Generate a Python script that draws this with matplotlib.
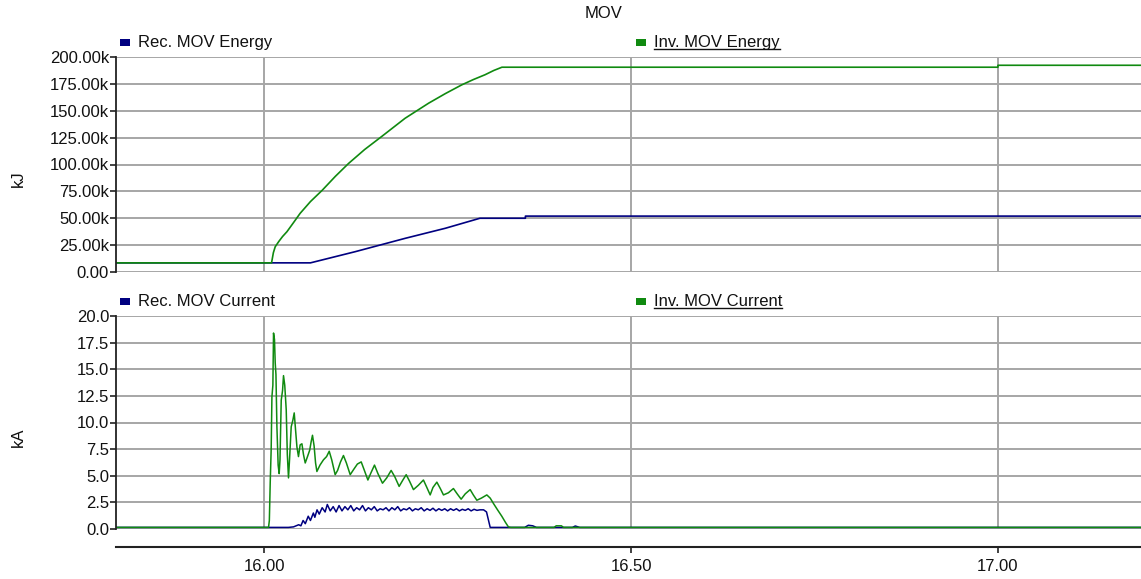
import matplotlib
matplotlib.use("Agg")
import matplotlib.pyplot as plt
from matplotlib.patches import Rectangle
from matplotlib.lines import Line2D
from matplotlib.ticker import FuncFormatter

plt.rcParams['font.family'] = ['Liberation Sans', 'DejaVu Sans']

# energy traces, values in thousands of kJ
rec_energy_t = [15.79, 16.063, 16.124, 16.192, 16.247, 16.294, 16.356, 16.356, 17.20]
rec_energy_k = [8.5, 8.5, 18.9, 31.3, 40.7, 50.0, 50.0, 52.0, 52.0]

inv_energy_t = [15.79, 16.010, 16.0125, 16.015, 16.020, 16.025, 16.031, 16.040, 16.049,
                16.063, 16.079, 16.097, 16.115, 16.137, 16.160, 16.192, 16.224, 16.247,
                16.269, 16.285, 16.301, 16.313, 16.324, 17.000, 17.000, 17.20]
inv_energy_k = [8.5, 8.5, 18.0, 23.5, 28.5, 33.0, 37.5, 46.0, 54.6,
                65.5, 76.0, 89.0, 101.0, 114.0, 126.0, 143.0, 157.0, 166.0,
                174.0, 179.0, 183.5, 187.5, 190.5, 190.5, 192.3, 192.3]

# current traces (time, kA)
inv_current = [
    (15.79, 0.15), (16.0059, 0.15), (16.0070, 0.8), (16.0082, 4.4), (16.0095, 7.5),
    (16.0105, 12.4), (16.0118, 13.5), (16.0127, 18.4), (16.0140, 17.8), (16.0150, 15.6),
    (16.0160, 14.5), (16.0173, 9.6), (16.0190, 6.0), (16.0204, 5.2), (16.0215, 6.5),
    (16.0232, 12.1), (16.0250, 13.0), (16.0263, 14.4), (16.0280, 13.5), (16.0300, 11.2),
    (16.0315, 7.0), (16.0331, 4.8), (16.0345, 6.5), (16.0368, 9.6), (16.0390, 10.2),
    (16.0409, 10.9), (16.0425, 9.5), (16.0446, 7.7), (16.0467, 6.8), (16.0490, 7.9),
    (16.0514, 8.0), (16.0535, 7.0), (16.0559, 6.2), (16.0590, 6.8), (16.0620, 7.4),
    (16.0640, 8.2), (16.0658, 8.8), (16.0680, 7.8), (16.0700, 6.2), (16.0718, 5.4),
    (16.0760, 6.0), (16.0808, 6.5), (16.0850, 6.8), (16.0886, 7.3), (16.0920, 6.5),
    (16.0967, 5.1), (16.1000, 5.5), (16.1040, 6.3), (16.1080, 6.9), (16.1120, 6.2),
    (16.1172, 5.1), (16.1220, 5.6), (16.1270, 6.1), (16.1322, 6.3), (16.1360, 5.6),
    (16.1413, 4.6), (16.1450, 5.2), (16.1503, 6.0), (16.1550, 5.2), (16.1612, 4.3),
    (16.1670, 4.8), (16.1730, 5.5), (16.1780, 4.9), (16.1839, 4.0), (16.1890, 4.6),
    (16.1935, 5.1), (16.1980, 4.5), (16.2034, 3.7), (16.2100, 4.1), (16.2170, 4.6),
    (16.2210, 4.0), (16.2262, 3.2), (16.2300, 3.9), (16.2353, 4.4), (16.2400, 3.8),
    (16.2443, 3.2), (16.2510, 3.4), (16.2579, 3.8), (16.2630, 3.3), (16.2684, 2.8),
    (16.2740, 3.3), (16.2807, 3.7), (16.2850, 3.2), (16.2898, 2.7), (16.2960, 2.9),
    (16.3034, 3.2), (16.3080, 2.9), (16.3124, 2.4), (16.3180, 1.8), (16.3238, 1.2),
    (16.3290, 0.6), (16.3328, 0.2), (16.336, 0.15), (16.395, 0.15), (16.398, 0.3),
    (16.405, 0.3), (16.408, 0.15), (17.20, 0.15),
]

rec_current = [
    (15.79, 0.15), (16.033, 0.15), (16.040, 0.2), (16.047, 0.4), (16.050, 0.3),
    (16.053, 0.8), (16.056, 0.5), (16.060, 1.2), (16.063, 0.8), (16.067, 1.5),
    (16.069, 1.1), (16.072, 1.8), (16.075, 1.4), (16.079, 2.0), (16.083, 1.6),
    (16.086, 2.3), (16.090, 1.7), (16.094, 2.1), (16.098, 1.6), (16.102, 2.2),
    (16.106, 1.7), (16.110, 2.1), (16.114, 1.8), (16.118, 2.2), (16.122, 1.7),
    (16.126, 2.0), (16.130, 1.8), (16.134, 2.2), (16.138, 1.7), (16.142, 2.0),
    (16.146, 1.8), (16.150, 2.1), (16.154, 1.7), (16.158, 1.9), (16.162, 1.8),
    (16.166, 2.0), (16.170, 1.7), (16.174, 2.0), (16.178, 1.8), (16.182, 2.1),
    (16.186, 1.7), (16.190, 1.9), (16.194, 1.8), (16.198, 2.0), (16.202, 1.7),
    (16.206, 1.9), (16.210, 1.8), (16.214, 2.0), (16.218, 1.7), (16.222, 1.9),
    (16.226, 1.75), (16.230, 1.95), (16.234, 1.7), (16.238, 1.9), (16.242, 1.75),
    (16.246, 1.9), (16.250, 1.7), (16.254, 1.9), (16.258, 1.75), (16.262, 1.9),
    (16.266, 1.7), (16.270, 1.85), (16.274, 1.75), (16.278, 1.9), (16.282, 1.7),
    (16.286, 1.85), (16.290, 1.75), (16.294, 1.8), (16.299, 1.8), (16.303, 1.6),
    (16.308, 0.15), (16.355, 0.15), (16.360, 0.35), (16.366, 0.3), (16.371, 0.15),
    (16.420, 0.15), (16.424, 0.28), (16.430, 0.15), (17.20, 0.15),
]

energy_ticks = [0, 25, 50, 75, 100, 125, 150, 175, 200]
current_ticks = [0, 2.5, 5, 7.5, 10, 12.5, 15, 17.5, 20]
time_ticks = [16.0, 16.5, 17.0]

navy = '#000080'
green = '#108a10'
grid_c = '#a6a6a6'
dark = '#222222'
fs = 12

W, H = 1141, 579
fig = plt.figure(figsize=(W / 100, H / 100), dpi=100)

ax1 = fig.add_axes([116 / W, 1 - 272 / H, 1 - 116 / W, 215 / H])
ax2 = fig.add_axes([116 / W, 1 - 529 / H, 1 - 116 / W, 213 / H])

for ax in (ax1, ax2):
    ax.set_xlim(15.798, 17.195)
    ax.set_xticks(time_ticks)
    ax.grid(True, color=grid_c, lw=1.4)
    ax.set_axisbelow(True)
    for s in ('top', 'right'):
        ax.spines[s].set_visible(False)
    ax.spines['left'].set_color(dark)
    ax.spines['left'].set_linewidth(1.3)
    ax.tick_params(axis='y', direction='out', length=4.5, width=1.2, color=dark,
                   pad=0.5, labelsize=fs, labelcolor='#111111')

# top: energy
ax1.plot(rec_energy_t, rec_energy_k, color=navy, lw=1.2)
ax1.plot(inv_energy_t, inv_energy_k, color=green, lw=1.2)
ax1.set_ylim(0, 200)
ax1.set_yticks(energy_ticks)
ax1.yaxis.set_major_formatter(FuncFormatter(lambda v, p: '0.00' if v == 0 else f'{v:.2f}k'))
ax1.spines['bottom'].set_visible(False)
ax1.tick_params(axis='x', length=0, labelbottom=False)

# bottom: current
ax2.plot([p[0] for p in rec_current], [p[1] for p in rec_current], color=navy, lw=1.1)
ax2.plot([p[0] for p in inv_current], [p[1] for p in inv_current], color=green, lw=1.1)
ax2.set_ylim(0, 20)
ax2.set_yticks(current_ticks)
ax2.yaxis.set_major_formatter(FuncFormatter(lambda v, p: f'{v:.1f}'))
ax2.spines['bottom'].set_position(('outward', 13))
ax2.spines['bottom'].set_color(dark)
ax2.spines['bottom'].set_linewidth(1.5)
ax2.xaxis.set_major_formatter(FuncFormatter(lambda v, p: f'{v:.2f}'))
ax2.tick_params(axis='x', direction='out', length=4.5, width=1.2, color=dark,
                pad=4, labelsize=fs, labelcolor='#111111')

# title and axis labels
fig.text(604 / W, 1 - 13 / H, 'MOV', ha='center', va='center', fontsize=fs, color='#111111')
fig.text(18 / W, 1 - 179 / H, 'kJ', rotation=90, ha='center', va='center', fontsize=fs, color='#111111')
fig.text(18 / W, 1 - 437 / H, 'kA', rotation=90, ha='center', va='center', fontsize=fs, color='#111111')

# legends drawn above each panel
legend_rows = [
    (42, 'Rec. MOV Energy', 'Inv. MOV Energy'),
    (301, 'Rec. MOV Current', 'Inv. MOV Current'),
]
underlined = []
for ypix, rec_lbl, inv_lbl in legend_rows:
    for xpix, lbl, col, ul in ((120, rec_lbl, navy, False), (636, inv_lbl, green, True)):
        fig.patches.append(Rectangle(((xpix) / W, 1 - (ypix + 3.5) / H), 10 / W, 7 / H,
                                     transform=fig.transFigure, color=col, lw=0))
        t = fig.text((xpix + 18) / W, 1 - ypix / H, lbl, ha='left', va='center',
                     fontsize=fs, color='#111111')
        if ul:
            underlined.append(t)

fig.canvas.draw()
rend = fig.canvas.get_renderer()
for t in underlined:
    bb = t.get_window_extent(rend)
    y = (bb.y0 + 1) / H
    fig.lines.append(Line2D([bb.x0 / W, bb.x1 / W], [y, y], transform=fig.transFigure,
                            color='#111111', lw=1.0))

fig.savefig('out.png', dpi=100)
